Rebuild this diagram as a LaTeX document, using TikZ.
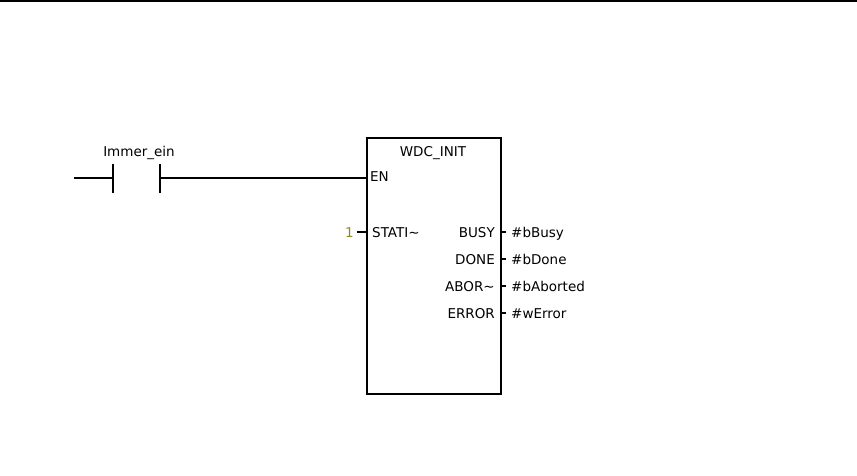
\documentclass[tikz,border=0pt]{standalone}
\usepackage{fontspec}
\setmainfont{DejaVu Sans}
\definecolor{olive1}{HTML}{8A8A1E}
\begin{document}
\begin{tikzpicture}[x=1pt,y=-1pt,
  wire/.style={line width=2.2pt},
  lbl/.style={inner sep=0pt,font=\fontsize{13.5}{15}\selectfont},
  fbbox/.style={draw,line width=2.4pt,minimum width=134pt,minimum height=256pt,inner sep=0pt}]
\useasboundingbox (0,0) rectangle (857,476);
\fill[black] (0,0) rectangle (857,2.5);
% rail and contact
\coordinate (w0) at (74,178);
\coordinate (c1) at (113,178);
\coordinate (c2) at (160,178);
\draw[wire] (w0) -- (c1);
\draw[wire] ([yshift=-15pt]c1) -- ([yshift=14pt]c1);
\draw[wire] ([yshift=-15pt]c2) -- ([yshift=14pt]c2);
\node[lbl,anchor=base] (cname) at (139,157) {Immer\_ein};
% function block
\node[fbbox,anchor=north west] (fb) at (366,137) {};
\node[lbl,anchor=base] (title) at (433,157) {WDC\_INIT};
\coordinate (en) at (366,178);
\draw[wire] (c2) -- (en);
\node[lbl,anchor=base west] (ENl) at (370,182) {EN};
\node[lbl,anchor=base west] (STl) at (372,237) {STATI\char`\~};
\coordinate (stpin) at (366,232);
\coordinate (stend) at (357,232);
\draw[wire] (stend) -- (stpin);
\node[lbl,anchor=base east,text=olive1] (one) at (354,237) {1};
% outputs
\foreach \n/\t/\v/\y in {busy/BUSY/\#bBusy/237, done/DONE/\#bDone/264, abor/ABOR\char`\~/\#bAborted/291, err/ERROR/\#wError/318}{
  \node[lbl,anchor=base east] (\n l) at (495,\y) {\t};
  \coordinate (\n p) at (500,\y-5);
  \coordinate (\n e) at (506,\y-5);
  \draw[wire] (\n p) -- (\n e);
  \node[lbl,anchor=base west] (\n v) at (511,\y) {\v};
}
\end{tikzpicture}
\end{document}
